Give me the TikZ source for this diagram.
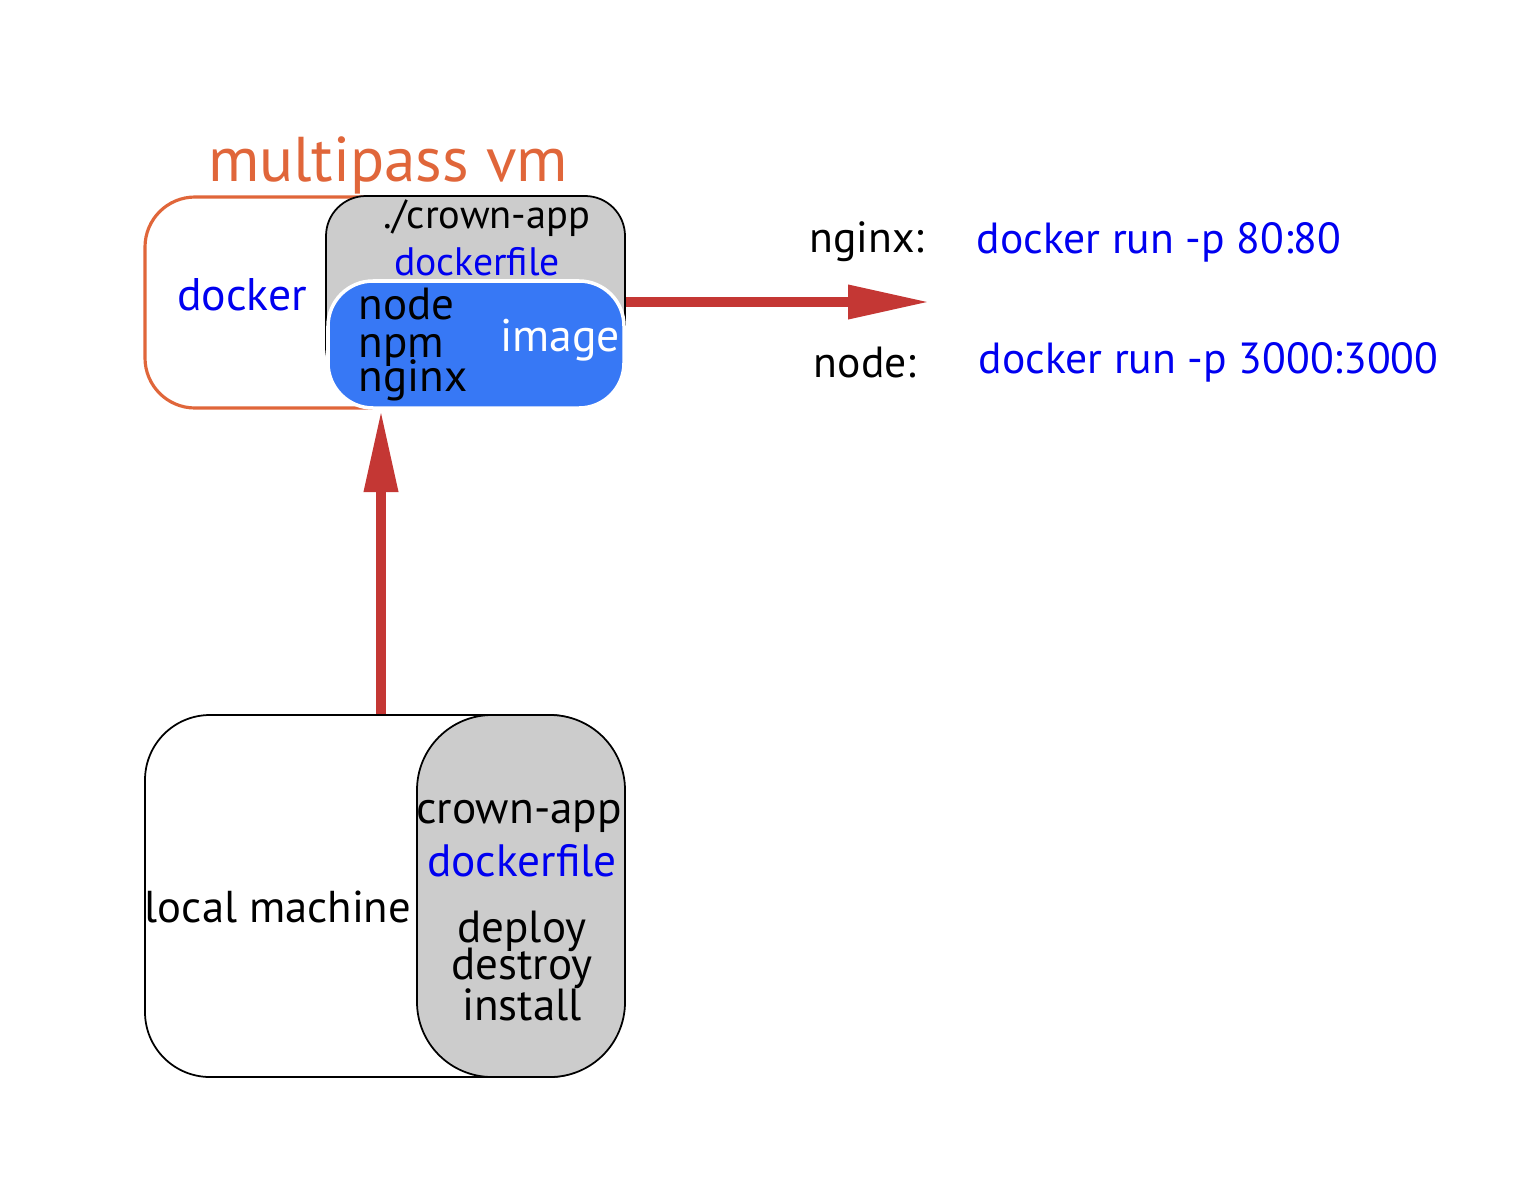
\documentclass[tikz,border=0pt]{standalone}
\usepackage{fontspec}
\setmainfont{PT Sans}
\usetikzlibrary{arrows.meta,positioning}
\definecolor{vmorange}{HTML}{E0663A}
\definecolor{txtblue}{HTML}{0000F0}
\definecolor{imgblue}{HTML}{3778F5}
\definecolor{arrred}{HTML}{C43734}
\definecolor{boxgray}{HTML}{CCCCCC}
\begin{document}
\begin{tikzpicture}
\useasboundingbox (0,0) rectangle (15.34,11.88);
% boxes
\begin{scope}[every node/.style={rounded corners,inner sep=0pt}]
    \node[draw=vmorange,line width=0.9pt,fill=white,minimum width=3.55cm,minimum height=2.11cm,rounded corners=0.5cm] (vm) at (3.225,8.855) {};
    \node[draw=black,line width=0.5pt,fill=boxgray,minimum width=2.99cm,minimum height=1.92cm,rounded corners=0.4cm] (app) at (4.755,8.96) {};
    \node[draw=white,line width=1pt,fill=imgblue,minimum width=2.96cm,minimum height=1.27cm,rounded corners=0.45cm] (img) at (4.76,8.435) {};
    \node[draw=black,line width=0.5pt,fill=white,minimum width=4.7cm,minimum height=3.62cm,rounded corners=0.65cm] (local) at (3.80,2.92) {};
    \node[draw=black,line width=0.5pt,fill=boxgray,minimum width=2.08cm,minimum height=3.62cm,rounded corners=0.75cm] (repo) at (5.21,2.92) {};
\end{scope}
% labels
\begin{scope}[every node/.style={inner sep=0pt,font=\fontsize{12.4pt}{12.4pt}\selectfont}]
    \node[text=vmorange,font=\fontsize{18pt}{18pt}\selectfont] (vmlbl) at (3.88,10.23) {multipass vm};
    \node[font=\fontsize{11.5pt}{11.5pt}\selectfont] (applbl) at (4.87,9.70) {./crown-app};
    \node[text=txtblue,font=\fontsize{11.3pt}{11.3pt}\selectfont] (appdf) at (4.77,9.26) {dockerfile};
    \node[text=txtblue,font=\fontsize{13pt}{13pt}\selectfont] (dock) at (2.42,8.93) {docker};
    \node[text=white,font=\fontsize{13pt}{13pt}\selectfont] (imglbl) at (5.60,8.48) {image};
    \node[font=\fontsize{12.7pt}{12.7pt}\selectfont] (locallbl) at (2.78,2.81) {local machine};
    \node[font=\fontsize{12.9pt}{12.9pt}\selectfont] (repolbl) at (5.19,3.72) {crown-app};
    \node[text=txtblue,font=\fontsize{12.9pt}{12.9pt}\selectfont] (repodf) at (5.22,3.27) {dockerfile};
    \node (ngx) at (8.67,9.46) {nginx:};
    \node[text=txtblue,anchor=west] (ngxrun) at (9.76,9.46) {docker run -p 80:80};
    \node (nd) at (8.65,8.26) {node:};
    \node[text=txtblue,anchor=west] (ndrun) at (9.78,8.26) {docker run -p 3000:3000};
\end{scope}
% stacked lines
\begin{scope}[every node/.style={inner sep=0pt,text height=0.62em,text depth=0.12em,font=\fontsize{12.8pt}{12.8pt}\selectfont}]
    \node[anchor=base west] (pnode) at (3.58,8.69) {node};
    \node[anchor=base west] (pnpm) at (3.58,8.31) {npm};
    \node[anchor=base west] (pnginx) at (3.58,7.97) {nginx};
    \node[anchor=base] (cdeploy) at (5.22,2.46) {deploy};
    \node[anchor=base] (cdestroy) at (5.22,2.09) {destroy};
    \node[anchor=base] (cinstall) at (5.22,1.68) {install};
\end{scope}
% arrows
\coordinate (out) at (9.30,8.86);
\coordinate (up) at (3.81,7.78);
\begin{scope}[arrred,line width=0.1cm,-{Triangle[length=0.82cm,width=0.32cm]}]
    \draw (app.east |- out) -- (out);
    \draw (local.north -| up) -- (up);
\end{scope}
\end{tikzpicture}
\end{document}
